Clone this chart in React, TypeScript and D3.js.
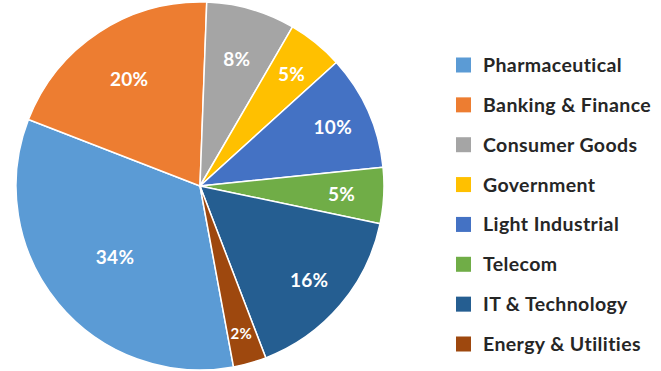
import React from 'react';
import * as d3 from 'd3';

const categories = [
  'Pharmaceutical',
  'Banking & Finance',
  'Consumer Goods',
  'Government',
  'Light Industrial',
  'Telecom',
  'IT & Technology',
  'Energy & Utilities',
];
const shares = [33.8, 19.7, 7.8, 4.9, 10.1, 4.9, 15.9, 2.9];
const shareLabels = ['34%', '20%', '8%', '5%', '10%', '5%', '16%', '2%'];
const colors = ['#5B9BD5', '#ED7D31', '#A5A5A5', '#FFC000', '#4472C4', '#70AD47', '#255E91', '#9E480E'];

// label distance from centre, as a fraction of the radius (Excel "best fit")
const labelRadius = [0.6, 0.7, 0.72, 0.79, 0.79, 0.77, 0.78, 0.83];

const W = 661;
const H = 371;
const cx = 200;
const cy = 186;
const R = 184;
const start = (169.5 * Math.PI) / 180;

const App: React.FC = () => {
  const pie = d3
    .pie<number>()
    .sort(null)
    .value((d) => d)
    .startAngle(start)
    .endAngle(start + 2 * Math.PI);
  const slices = pie(shares);
  const arc = d3.arc<d3.PieArcDatum<number>>().innerRadius(0).outerRadius(R);

  const legendY = d3.scalePoint<string>().domain(categories).range([65, 344]);

  return (
    <svg
      width={W}
      height={H}
      style={{ position: 'absolute', left: 0, top: 0, fontFamily: 'Lato, "Open Sans", sans-serif', fontWeight: 700 }}
    >
      <rect width={W} height={H} fill="#fff" />
      <g transform={`translate(${cx},${cy})`}>
        {slices.map((s, i) => (
          <path key={i} d={arc(s) || ''} fill={colors[i]} stroke="#fff" strokeWidth={1.5} strokeLinejoin="round" />
        ))}
        {slices.map((s, i) => {
          const a = (s.startAngle + s.endAngle) / 2;
          const r = R * labelRadius[i];
          return (
            <text
              key={'l' + i}
              x={r * Math.sin(a)}
              y={-r * Math.cos(a)}
              dy="0.4em"
              textAnchor="middle"
              fill="#fff"
              fontSize={i === 7 ? 15 : 19}
              letterSpacing={0.3}
            >
              {shareLabels[i]}
            </text>
          );
        })}
      </g>
      <g>
        {categories.map((c, i) => {
          const y = legendY(c) as number;
          return (
            <g key={c}>
              <rect x={456} y={y - 7.5} width={15} height={15} fill={colors[i]} />
              <text x={483} y={y} dy="0.36em" fontSize={19.5} letterSpacing={0.4} fill="#262626">
                {c}
              </text>
            </g>
          );
        })}
      </g>
    </svg>
  );
};

export default App;
